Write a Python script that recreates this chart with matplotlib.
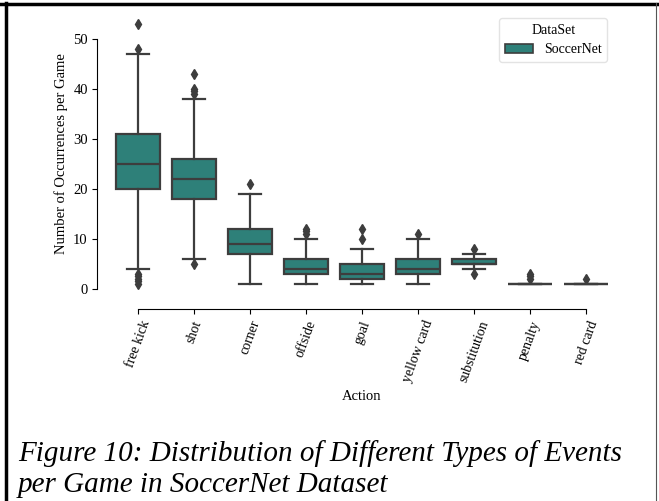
import matplotlib
matplotlib.use("Agg")
import matplotlib.pyplot as plt
from matplotlib.lines import Line2D
from matplotlib.patches import Patch

plt.rcParams['font.family'] = ['Liberation Serif', 'DejaVu Serif']

# box statistics
actions = ['free kick', 'shot', 'corner', 'offside', 'goal',
           'yellow card', 'substitution', 'penalty', 'red card']
q1 = [20, 18, 7, 3, 2, 3, 5, 1, 1]
med = [25, 22, 9, 4, 3, 4, 5, 1, 1]
q3 = [31, 26, 12, 6, 5, 6, 6, 1, 1]
whislo = [4, 6, 1, 1, 1, 1, 4, 1, 1]
whishi = [47, 38, 19, 10, 8, 10, 7, 1, 1]
fliers = [[53, 48, 3, 2.5, 2, 1.5, 1],
          [43, 40, 39.5, 39, 5],
          [21],
          [12, 11.5, 11],
          [12, 10],
          [11],
          [8, 3],
          [3, 2.5, 2],
          [2]]

box_color = '#2e8079'
line_color = '#3d3d3d'

stats = []
for i in range(len(actions)):
    stats.append(dict(label=actions[i], q1=q1[i], med=med[i], q3=q3[i],
                      whislo=whislo[i], whishi=whishi[i], fliers=fliers[i]))

fig = plt.figure(figsize=(6.59, 5.01), dpi=100)
ax = fig.add_axes([0.1669, 0.4082, 0.7648, 0.5698])

ax.bxp(stats, positions=range(len(actions)), widths=0.8, patch_artist=True,
       boxprops=dict(facecolor=box_color, edgecolor=line_color, linewidth=1.6),
       medianprops=dict(color=line_color, linewidth=1.6),
       whiskerprops=dict(color=line_color, linewidth=1.6),
       capprops=dict(color=line_color, linewidth=1.6),
       flierprops=dict(marker='d', markerfacecolor=line_color,
                       markeredgecolor=line_color, markersize=5))

ax.set_xlim(-0.5, len(actions) - 0.5)
ax.set_ylim(-1.6, 55.6)
ax.set_yticks([0, 10, 20, 30, 40, 50])
ax.set_xticks(range(len(actions)))
ax.set_xticklabels(actions, fontsize=10.5)
ax.tick_params(axis='x', labelrotation=70)
ax.tick_params(axis='y', labelsize=10.5)
ax.set_xlabel('Action', fontsize=10.5)
ax.set_ylabel('Number of Occurrences per Game', fontsize=10.5)

# despine with offset and trim
for s in ['top', 'right']:
    ax.spines[s].set_visible(False)
ax.spines['left'].set_position(('outward', 9))
ax.spines['bottom'].set_position(('outward', 9))
ax.spines['left'].set_bounds(0, 50)
ax.spines['bottom'].set_bounds(0, len(actions) - 1)

handle = Patch(facecolor=box_color, edgecolor=line_color, linewidth=1.2)
leg = ax.legend([handle], ['SoccerNet'], title='DataSet', loc='upper right',
                fontsize=10, title_fontsize=10, frameon=True)
leg.get_frame().set_edgecolor('#dddddd')

fig.text(0.027, 0.064, 'Figure 10: Distribution of Different Types of Events\nper Game in SoccerNet Dataset',
         fontsize=21, style='italic', ha='left', va='center', linespacing=1.22)

# page border lines
fig.add_artist(Line2D([0, 1], [0.992, 0.992], color='black', linewidth=2.5,
                      transform=fig.transFigure))
fig.add_artist(Line2D([0.009, 0.009], [0, 0.994], color='black', linewidth=2.5,
                      transform=fig.transFigure))
fig.add_artist(Line2D([0.996, 0.996], [0, 0.994], color='#555555', linewidth=0.8,
                      transform=fig.transFigure))

fig.savefig('out.png', dpi=100)
